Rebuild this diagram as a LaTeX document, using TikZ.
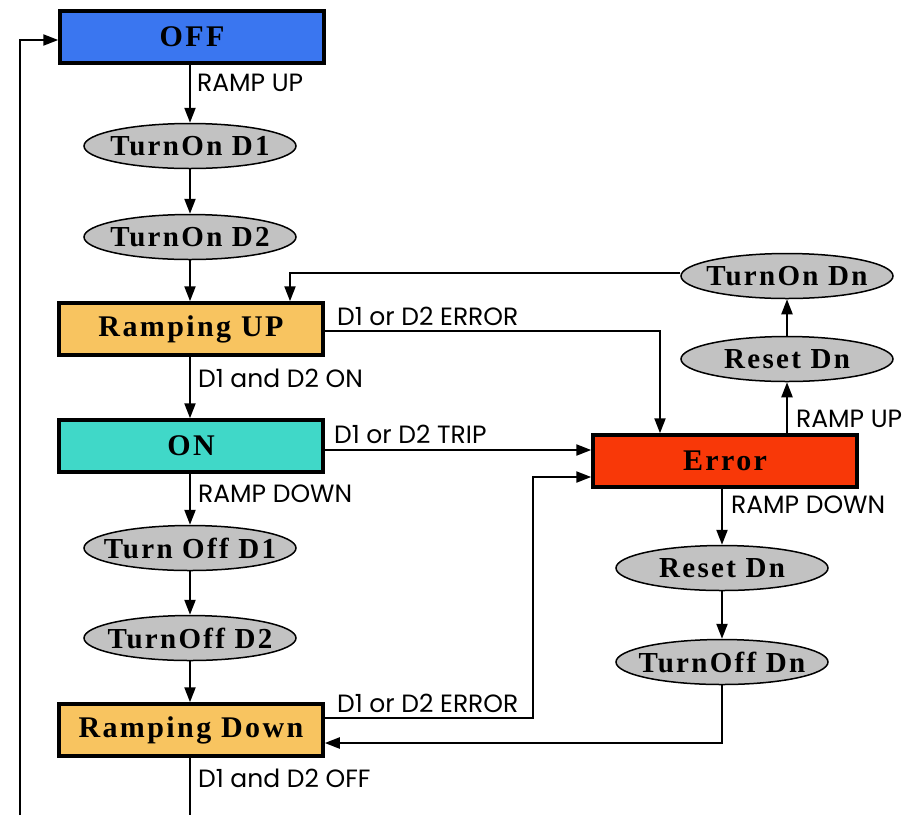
\documentclass[tikz,border=0pt]{standalone}
\usepackage{fontspec}
\setmainfont{Liberation Serif}
\newfontfamily\lblfont{Poppins}
\newfontfamily\stfont[LetterSpace=8]{Liberation Serif}
\usetikzlibrary{arrows.meta,shapes.geometric}
\definecolor{offblue}{RGB}{58,118,240}
\definecolor{rampcol}{RGB}{248,196,96}
\definecolor{oncol}{RGB}{64,216,200}
\definecolor{errcol}{RGB}{248,56,8}

\begin{document}
\begin{tikzpicture}[x=1pt,y=-1pt,line width=2.2pt,>={Triangle[length=15pt,width=11pt]},
 stbox/.style={draw,line width=3.5pt,minimum width=264pt,minimum height=52pt,inner sep=0pt,font=\stfont\fontsize{30}{30}\bfseries},
 stell/.style={ellipse,draw,line width=1.5pt,fill=black!24,minimum width=212pt,minimum height=45pt,inner xsep=-30pt,inner ysep=0pt,font=\stfont\fontsize{29}{29}\bfseries},
 lbl/.style={font=\lblfont\fontsize{25}{25}\selectfont,inner sep=0pt,anchor=base west}]
\useasboundingbox (0,0) rectangle (909,815);
% states
\node[stbox,fill=offblue] (off) at (192,37) {OFF};
\node[stbox,fill=rampcol] (rup) at (191,329) {Ramping UP};
\node[stbox,fill=oncol] (on) at (191,446) {ON};
\node[stbox,fill=rampcol] (rdn) at (191,730) {Ramping Down};
\node[stbox,fill=errcol] (err) at (725,461) {Error};
% actions
\foreach \n/\x/\y/\t in {ton1/190/146/TurnOn D1,ton2/190/237/TurnOn D2,toff1/190/548/Turn Off D1,toff2/190/638/TurnOff D2,
 tonn/787/276/TurnOn Dn,rsu/787/359/Reset Dn,rsd/722/568/Reset Dn,toffn/722/662/TurnOff Dn}
 \node[stell] (\n) at (\x,\y) {\t};
\coordinate (lb) at (20,815);\coordinate (mb) at (190,815);
% left column
\draw[->] (ton1 |- off.south) -- (ton1);
\draw[->] (ton1) -- (ton2);
\draw[->] (ton2) -- (ton2 |- rup.north);
\draw[->] (ton2 |- rup.south) -- (ton2 |- on.north);
\draw[->] (ton2 |- on.south) -- (toff1);
\draw[->] (toff1) -- (toff2);
\draw[->] (toff2) -- (toff2 |- rdn.north);
\draw (toff2 |- rdn.south) -- (mb);
\draw[->] (lb) |- ([yshift=-3pt]off.west);
% to and from error
\draw[->] ([yshift=-2pt]rup.east) -| ([xshift=-65pt]err.north);
\draw[->] ([yshift=-4pt]on.east) -- ([yshift=11pt]err.west);
\draw[->] ([yshift=12pt]rdn.east) -| (533,477) -- ([yshift=-16pt]err.west);
\draw[->] (rsu |- err.north) -- (rsu);
\draw[->] (rsu) -- (tonn);
\draw[->] ([yshift=3pt]tonn.west) -| ([xshift=99pt]rup.north);
\draw[->] (rsd |- err.south) -- (rsd);
\draw[->] (rsd) -- (toffn);
\draw[->] (toffn.south) |- ([yshift=-13pt]rdn.east);
% labels
\node[lbl] (l1) at (196,91) {RAMP UP};
\node[lbl] (l2) at (336,325) {D1 or D2 ERROR};
\node[lbl] (l3) at (197,387) {D1 and D2 ON};
\node[lbl] (l4) at (333,443) {D1 or D2 TRIP};
\node[lbl] (l5) at (197,502) {RAMP DOWN};
\node[lbl] (l6) at (336,712) {D1 or D2 ERROR};
\node[lbl] (l7) at (197,787) {D1 and D2 OFF};
\node[lbl] (l8) at (795,427) {RAMP UP};
\node[lbl] (l9) at (730,513) {RAMP DOWN};
\end{tikzpicture}
\end{document}
